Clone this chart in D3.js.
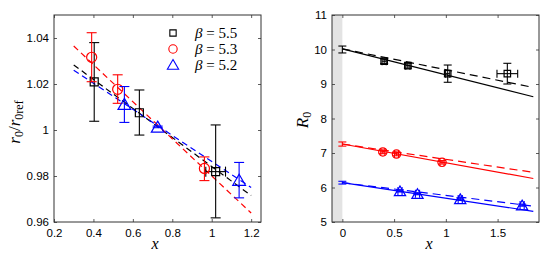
<!DOCTYPE html>
<html><head><meta charset="utf-8">
<script src="https://cdn.jsdelivr.net/npm/d3@7"></script>
<style>
body{margin:0;background:#fff;}
svg{display:block;}
.tick text{font-family:"Liberation Sans",Arial,sans-serif;font-size:11.5px;fill:#000;}
</style></head>
<body><svg id="c" width="543" height="256"></svg>
<script>
// ---------- data ----------
const seriesNames = ["β = 5.5", "β = 5.3", "β = 5.2"];
const seriesColors = ["#000000", "#ff0000", "#0000ff"];
const seriesShapes = ["square", "circle", "triangle"];

// left panel: r0/r0ref vs x  (x, y, yLow, yHigh, xErr)
const left55 = [
  {x:0.404, y:1.0209, lo:1.0038, hi:1.0380, xe:0},
  {x:0.633, y:1.0075, lo:0.9978, hi:1.0174, xe:0},
  {x:1.020, y:0.9819, lo:0.9618, hi:1.0022, xe:0.05}
];
const left53 = [
  {x:0.391, y:1.0316, lo:1.0210, hi:1.0423, xe:0},
  {x:0.523, y:1.0177, lo:1.0116, hi:1.0240, xe:0},
  {x:0.963, y:0.9833, lo:0.9780, hi:0.9883, xe:0}
];
const left52 = [
  {x:0.557, y:1.0112, lo:1.0033, hi:1.0189, xe:0},
  {x:0.726, y:1.0013, lo:1.0010, hi:1.0017, xe:0},
  {x:1.139, y:0.9782, lo:0.9705, hi:0.9859, xe:0}
];
// dashed fits, left panel: [x0, y0, x1, y1]
const leftFits = [
  [0.30, 1.0283, 1.20, 0.9715],
  [0.30, 1.0365, 1.20, 0.9639],
  [0.30, 1.0260, 1.20, 0.9750]
];
const leftXTicks = [0.2, 0.4, 0.6, 0.8, 1, 1.2];
const leftYTicks = [0.96, 0.98, 1, 1.02, 1.04];

// right panel: R0 vs x
const right55 = [
  {x:0,     y:10.00, lo:9.90, hi:10.10, xe:0, marker:false},
  {x:0.404, y:9.66,  lo:9.59, hi:9.73,  xe:0.02, marker:true},
  {x:0.633, y:9.53,  lo:9.46, hi:9.60,  xe:0.02, marker:true},
  {x:1.018, y:9.30,  lo:9.05, hi:9.55,  xe:0.02, marker:true},
  {x:1.594, y:9.30,  lo:9.00, hi:9.60,  xe:0.10, marker:true}
];
const right53 = [
  {x:0,     y:7.26, lo:7.20, hi:7.32, xe:0, marker:false},
  {x:0.391, y:7.03, lo:6.98, hi:7.08, xe:0.02, marker:true},
  {x:0.523, y:6.97, lo:6.92, hi:7.02, xe:0.02, marker:true},
  {x:0.963, y:6.73, lo:6.68, hi:6.78, xe:0.02, marker:true}
];
const right52 = [
  {x:0,     y:6.14, lo:6.10, hi:6.18, xe:0, marker:false},
  {x:0.557, y:5.90, lo:5.87, hi:5.93, xe:0.02, marker:true},
  {x:0.726, y:5.82, lo:5.79, hi:5.85, xe:0.02, marker:true},
  {x:1.139, y:5.67, lo:5.64, hi:5.70, xe:0.02, marker:true},
  {x:1.737, y:5.49, lo:5.46, hi:5.52, xe:0.02, marker:true}
];
// right fits: solid and dashed [x0,y0,x1,y1]
const rightSolid = [
  [0, 10.02, 1.845, 8.63],
  [0, 7.26, 1.845, 6.26],
  [0, 6.14, 1.845, 5.31]
];
const rightDashed = [
  [0, 10.02, 1.845, 8.90],
  [0, 7.26, 1.845, 6.44],
  [0, 6.14, 1.845, 5.46]
];
const rightXTicks = [0, 0.5, 1, 1.5];
const rightYTicks = [5, 6, 7, 8, 9, 10, 11];

// ---------- drawing ----------
const svg = d3.select("#c");
const frameColor = "#333";

function symbolPath(shape, size){
  const t = shape === "square" ? d3.symbolSquare : shape === "circle" ? d3.symbolCircle : d3.symbolTriangle;
  return d3.symbol().type(t).size(size)();
}

function panel(opts){
  const g = svg.append("g");
  const x = d3.scaleLinear().domain(opts.xDomain).range([opts.x0, opts.x1]);
  const y = d3.scaleLinear().domain(opts.yDomain).range([opts.y1, opts.y0]);

  if (opts.band) {
    g.append("rect").attr("x", x(opts.band[0])).attr("y", opts.y0)
      .attr("width", x(opts.band[1]) - x(opts.band[0])).attr("height", opts.y1 - opts.y0)
      .attr("fill", "#e3e3e3");
  }
  const axes = [
    d3.axisBottom(x).tickValues(opts.xTicks).tickSize(-3).tickPadding(7).tickFormat(d3.format("~g")),
    d3.axisTop(x).tickValues(opts.xTicks).tickSize(-3).tickFormat(""),
    d3.axisLeft(y).tickValues(opts.yTicks).tickSize(-3).tickPadding(5).tickFormat(d3.format("~g")),
    d3.axisRight(y).tickValues(opts.yTicks).tickSize(-3).tickFormat("")
  ];
  const tr = [`translate(0,${opts.y1})`, `translate(0,${opts.y0})`, `translate(${opts.x0},0)`, `translate(${opts.x1},0)`];
  axes.forEach((a, i) => {
    const ag = g.append("g").attr("transform", tr[i]).call(a);
    ag.select(".domain").remove();
    ag.selectAll(".tick line").attr("stroke", frameColor).attr("stroke-width", 0.8);
  });
  g.append("rect").attr("x", opts.x0).attr("y", opts.y0)
    .attr("width", opts.x1 - opts.x0).attr("height", opts.y1 - opts.y0)
    .attr("fill", "none").attr("stroke", frameColor).attr("stroke-width", 1);
  return {g, x, y};
}

function drawFits(p, fits, dash, width){
  fits.forEach((f, i) => {
    p.g.append("line").attr("x1", p.x(f[0])).attr("y1", p.y(f[1]))
      .attr("x2", p.x(f[2])).attr("y2", p.y(f[3]))
      .attr("stroke", seriesColors[i]).attr("stroke-width", width)
      .attr("stroke-dasharray", dash);
  });
}

function drawPoints(p, data, i, cap, msize){
  const c = seriesColors[i];
  const g = p.g.append("g").attr("stroke", c).attr("fill", "none").attr("stroke-width", 1.1);
  data.forEach(d => {
    const cx = p.x(d.x), cy = p.y(d.y);
    g.append("line").attr("x1", cx).attr("x2", cx).attr("y1", p.y(d.lo)).attr("y2", p.y(d.hi));
    g.append("line").attr("x1", cx - cap).attr("x2", cx + cap).attr("y1", p.y(d.lo)).attr("y2", p.y(d.lo));
    g.append("line").attr("x1", cx - cap).attr("x2", cx + cap).attr("y1", p.y(d.hi)).attr("y2", p.y(d.hi));
    if (d.xe) {
      const xl = p.x(d.x - d.xe), xr = p.x(d.x + d.xe);
      g.append("line").attr("x1", xl).attr("x2", xr).attr("y1", cy).attr("y2", cy);
      g.append("line").attr("x1", xl).attr("x2", xl).attr("y1", cy - cap).attr("y2", cy + cap);
      g.append("line").attr("x1", xr).attr("x2", xr).attr("y1", cy - cap).attr("y2", cy + cap);
    }
    if (d.marker !== false) {
      const shp = seriesShapes[i];
      const dy = shp === "triangle" ? 1.5 : 0;
      g.append("path").attr("d", symbolPath(shp, msize[shp]))
        .attr("transform", `translate(${cx},${cy + dy})`).attr("stroke-width", 1.2);
    }
  });
}

// Left panel
const L = panel({x0:54, x1:261, y0:15, y1:222, xDomain:[0.2, 1.25], yDomain:[0.96, 1.05],
  xTicks:leftXTicks, yTicks:leftYTicks});
drawFits(L, leftFits, "6,4", 1.2);
const leftSizes = {square:64, circle:80, triangle:70};
[left55, left53, left52].forEach((d, i) => drawPoints(L, d, i, 5, leftSizes));

// legend
seriesNames.forEach((name, i) => {
  const ly = 33 + i * 16;
  L.g.append("path").attr("d", symbolPath(seriesShapes[i], i === 0 ? 40 : 55))
    .attr("transform", `translate(173,${ly + (i === 2 ? 1 : 0)})`)
    .attr("fill", "none").attr("stroke", seriesColors[i]).attr("stroke-width", 1.1);
  const t = L.g.append("text").attr("x", 195).attr("y", ly + 5)
    .attr("font-family", "'Liberation Serif','Times New Roman',serif").attr("font-size", 15);
  t.append("tspan").attr("font-style", "italic").text(name.slice(0, 1));
  t.append("tspan").text(" " + name.slice(1).trim());
});

// Right panel
const R = panel({x0:332, x1:539, y0:15, y1:222, xDomain:[-0.1, 1.9], yDomain:[5, 11],
  xTicks:rightXTicks, yTicks:rightYTicks, band:[-0.1, 0]});
drawFits(R, rightSolid, null, 1.2);
drawFits(R, rightDashed, "8,5", 1.2);
const rightSizes = {square:42, circle:55, triangle:55};
[right55, right53, right52].forEach((d, i) => drawPoints(R, d, i, 4, rightSizes));

// axis labels
const serif = "'Liberation Serif','Times New Roman',serif";
svg.append("text").attr("x", 155).attr("y", 249).attr("text-anchor", "middle")
  .attr("font-family", serif).attr("font-style", "italic").attr("font-size", 16).text("x");
svg.append("text").attr("x", 429).attr("y", 249).attr("text-anchor", "middle")
  .attr("font-family", serif).attr("font-style", "italic").attr("font-size", 16).text("x");

const yl = svg.append("text").attr("transform", "translate(20,122) rotate(-90)").attr("text-anchor", "middle")
  .attr("font-family", serif).attr("font-size", 17);
yl.append("tspan").attr("font-style", "italic").text("r");
yl.append("tspan").attr("font-size", 12).attr("dy", 3).text("0");
yl.append("tspan").attr("dy", -3).text("/");
yl.append("tspan").attr("font-style", "italic").text("r");
yl.append("tspan").attr("font-size", 12).attr("dy", 3).text("0ref");

const yr = svg.append("text").attr("transform", "translate(308,120) rotate(-90)").attr("text-anchor", "middle")
  .attr("font-family", serif).attr("font-size", 17);
yr.append("tspan").attr("font-style", "italic").text("R");
yr.append("tspan").attr("font-size", 12).attr("dy", 3).text("0");
</script></body></html>
